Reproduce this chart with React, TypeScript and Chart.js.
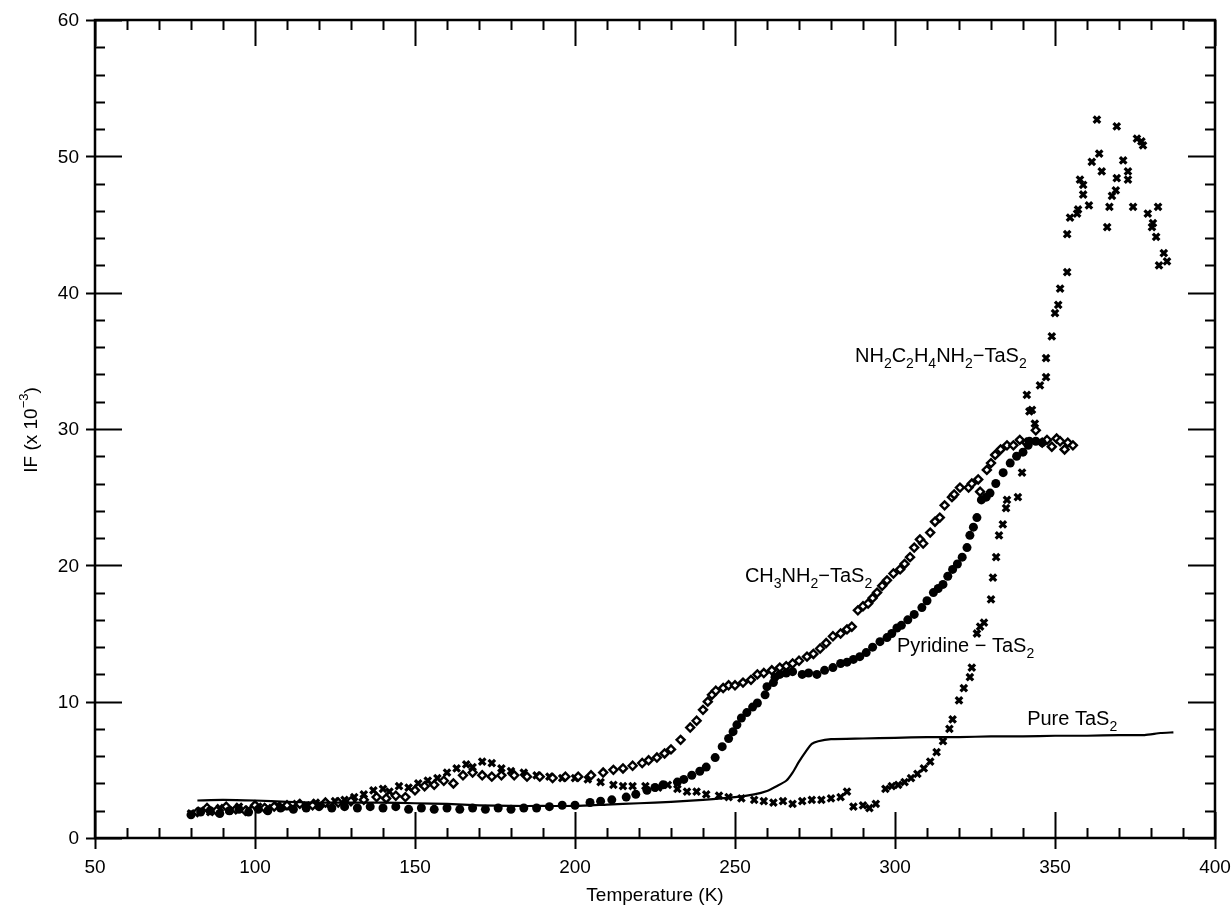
import React, { useEffect, useRef } from "react";
import { Chart, registerables } from "chart.js";
Chart.register(...registerables);

const FONT = '"Liberation Sans", Arial, Helvetica, sans-serif';

// Pure TaS2 (solid line)
const pureT = [82, 90, 100, 110, 120, 130, 140, 150, 160, 170, 180, 190, 200, 210, 220, 230, 240, 250, 256, 260, 263, 266, 268, 270, 272, 274, 276, 280, 290, 300, 310, 320, 330, 340, 350, 360, 370, 378, 383, 387];
const pureIF = [2.75, 2.8, 2.75, 2.65, 2.6, 2.6, 2.6, 2.55, 2.5, 2.4, 2.35, 2.35, 2.35, 2.45, 2.55, 2.65, 2.8, 3.0, 3.2, 3.45, 3.8, 4.2, 4.8, 5.6, 6.3, 6.9, 7.1, 7.25, 7.3, 7.35, 7.4, 7.4, 7.45, 7.45, 7.5, 7.5, 7.55, 7.55, 7.7, 7.75];

// CH3NH2-TaS2 (open diamonds)
const ch3T = [82, 85, 88, 91, 94, 97, 100, 103, 106, 110, 114, 118, 122, 126, 130, 134, 138, 141, 144, 147, 150, 153, 156, 159, 162, 165, 168, 171, 174, 177, 181, 185, 189, 193, 197, 201, 205, 208.8, 212, 215, 218, 221, 223, 225.6, 228, 230, 233, 236, 238, 240, 241.5, 242.8, 244, 246.3, 248, 250, 252.5, 255, 257, 259, 261.5, 264, 266, 268, 270, 272.5, 274.5, 276.6, 278.5, 280.6, 283, 285, 286.5, 288.4, 290, 291.6, 293, 294.4, 296, 297.5, 299.5, 301.6, 303, 304.7, 306, 307.8, 308.8, 311, 312.5, 314, 315.5, 317.8, 318.5, 320.3, 323, 324, 326, 326.6, 328.7, 330, 331.3, 333, 335, 337, 339, 341, 344, 346, 347.5, 349, 350.5, 351.6, 353, 354, 355.6];
const ch3IF = [1.9, 2.2, 2.0, 2.3, 2.1, 2.0, 2.4, 2.2, 2.3, 2.4, 2.5, 2.4, 2.6, 2.6, 2.7, 2.8, 3.0, 2.9, 3.1, 3.0, 3.5, 3.8, 3.9, 4.2, 4.0, 4.6, 4.8, 4.6, 4.5, 4.6, 4.6, 4.5, 4.5, 4.4, 4.5, 4.5, 4.6, 4.8, 5.0, 5.1, 5.3, 5.5, 5.7, 5.9, 6.2, 6.5, 7.2, 8.1, 8.6, 9.4, 10.0, 10.5, 10.8, 11.0, 11.2, 11.2, 11.4, 11.6, 12.0, 12.1, 12.3, 12.5, 12.6, 12.8, 13.0, 13.3, 13.5, 13.9, 14.3, 14.8, 15.0, 15.3, 15.5, 16.7, 17.0, 17.2, 17.6, 18.0, 18.5, 18.9, 19.4, 19.7, 20.1, 20.6, 21.3, 21.9, 21.6, 22.4, 23.2, 23.5, 24.4, 25.0, 25.2, 25.7, 25.7, 26.0, 26.3, 25.4, 27.0, 27.5, 28.1, 28.5, 28.8, 28.8, 29.2, 29.0, 29.9, 29.0, 29.2, 28.7, 29.3, 29.1, 28.5, 29.0, 28.8];

// Pyridine-TaS2 (filled circles)
const pyrT = [80, 83, 86, 89, 92, 95, 98, 101, 104, 108, 112, 116, 120, 124, 128, 132, 136, 140, 144, 148, 152, 156, 160, 164, 168, 172, 176, 180, 184, 188, 192, 196, 200, 204.7, 208, 211.5, 216, 219, 222.5, 225, 227.5, 232, 234, 236.5, 239, 241, 243.8, 246, 248, 249.4, 250.6, 252, 253.7, 255.5, 257, 259.4, 260, 262, 262.5, 264, 266, 268, 271, 273, 275.6, 278, 280.6, 283, 285, 287, 289, 291, 293, 295.3, 297.5, 299, 300.6, 302, 304, 306, 308.4, 310, 312, 313.5, 315, 316.5, 318, 319.5, 321, 322.5, 323.4, 324.5, 325.6, 327, 328.5, 329.7, 331.5, 333.8, 336, 338, 340, 341.6, 342, 344, 346];
const pyrIF = [1.7, 1.9, 2.0, 1.8, 2.0, 2.1, 1.9, 2.1, 2.0, 2.2, 2.1, 2.2, 2.3, 2.2, 2.3, 2.2, 2.3, 2.2, 2.3, 2.1, 2.2, 2.1, 2.2, 2.1, 2.2, 2.1, 2.2, 2.1, 2.2, 2.2, 2.3, 2.4, 2.4, 2.6, 2.7, 2.8, 3.0, 3.2, 3.5, 3.7, 3.9, 4.1, 4.3, 4.6, 4.9, 5.2, 5.9, 6.7, 7.3, 7.8, 8.3, 8.8, 9.2, 9.6, 9.9, 10.5, 11.1, 11.4, 11.8, 12.0, 12.1, 12.2, 12.0, 12.1, 12.0, 12.3, 12.5, 12.8, 12.9, 13.1, 13.3, 13.6, 14.0, 14.4, 14.7, 15.0, 15.4, 15.6, 16.0, 16.4, 16.9, 17.4, 18.0, 18.3, 18.6, 19.2, 19.7, 20.1, 20.6, 21.3, 22.2, 22.8, 23.5, 24.8, 25.0, 25.3, 26.0, 26.8, 27.5, 28.0, 28.3, 28.8, 29.1, 29.1, 29.0];

// NH2C2H4NH2-TaS2 (crosses)
const enT = [80, 83, 86, 89, 92, 95, 98, 101, 104, 107, 110, 113, 116, 119, 122, 125, 128, 131, 134, 137, 140, 142, 145, 148, 151, 154, 157, 160, 163, 166, 168, 171, 174, 177, 180, 184, 188, 192, 196, 200, 204, 208, 212, 215, 218, 222, 226, 229, 232, 235, 238, 241, 245, 248, 252, 256, 259, 262, 265, 268, 271, 274, 277, 280, 283, 285, 287, 290, 292, 294, 297, 299, 301, 303, 305, 307, 309, 311, 313, 315, 317, 318, 320, 321.5, 323.4, 324, 325.6, 326.6, 327.8, 330, 330.6, 331.6, 332.5, 333.7, 334.7, 335, 338.4, 339.7, 341.2, 342, 342.8, 343.7, 345.3, 347.2, 347.2, 349, 350, 351, 351.6, 353.8, 353.8, 354.7, 356.9, 357.2, 357.8, 358.8, 358.8, 360.6, 361.5, 363.1, 363.8, 364.6, 366.3, 367, 367.8, 369, 369.3, 369.3, 371.3, 372.8, 372.8, 374.4, 375.6, 377, 377.5, 379, 380.3, 380.6, 381.6, 382.2, 382.5, 384, 385];
const enIF = [1.8, 2.0, 1.9, 2.2, 2.0, 2.3, 2.1, 2.3, 2.2, 2.4, 2.3, 2.5, 2.4, 2.6, 2.5, 2.7, 2.8, 3.0, 3.2, 3.5, 3.6, 3.4, 3.8, 3.7, 4.0, 4.2, 4.4, 4.8, 5.1, 5.4, 5.2, 5.6, 5.5, 5.1, 4.9, 4.8, 4.6, 4.5, 4.4, 4.4, 4.3, 4.1, 3.9, 3.8, 3.8, 3.8, 3.7, 3.9, 3.6, 3.4, 3.4, 3.2, 3.1, 3.0, 2.9, 2.8, 2.7, 2.6, 2.7, 2.5, 2.7, 2.8, 2.8, 2.9, 3.0, 3.4, 2.3, 2.4, 2.2, 2.5, 3.6, 3.8, 3.9, 4.1, 4.4, 4.7, 5.1, 5.6, 6.3, 7.1, 8.0, 8.7, 10.1, 11.0, 11.8, 12.5, 15.0, 15.5, 15.8, 17.5, 19.1, 20.6, 22.2, 23.0, 24.2, 24.8, 25.0, 26.8, 32.5, 31.3, 31.4, 30.4, 33.2, 33.8, 35.2, 36.8, 38.5, 39.1, 40.3, 41.5, 44.3, 45.5, 45.8, 46.1, 48.3, 47.2, 47.9, 46.4, 49.6, 52.7, 50.2, 48.9, 44.8, 46.3, 47.1, 47.5, 48.4, 52.2, 49.7, 48.9, 48.3, 46.3, 51.3, 51.1, 50.8, 45.8, 44.8, 45.1, 44.1, 46.3, 42.0, 42.9, 42.3];

const xMajor = [50, 100, 150, 200, 250, 300, 350, 400];
const yMajor = [0, 10, 20, 30, 40, 50, 60];
const xTitle = "Temperature (K)";

// rich labels: [text, kind] kind: n | sub | sup
type Part = [string, string];
const seriesLabels: { x: number; y: number; parts: Part[] }[] = [
  { x: 287.5, y: 34.9, parts: [["NH", "n"], ["2", "sub"], ["C", "n"], ["2", "sub"], ["H", "n"], ["4", "sub"], ["NH", "n"], ["2", "sub"], ["\u2212TaS", "n"], ["2", "sub"]] },
  { x: 253.1, y: 18.8, parts: [["CH", "n"], ["3", "sub"], ["NH", "n"], ["2", "sub"], ["\u2212TaS", "n"], ["2", "sub"]] },
  { x: 300.6, y: 13.65, parts: [["Pyridine \u2212 TaS", "n"], ["2", "sub"]] },
  { x: 341.3, y: 8.3, parts: [["Pure TaS", "n"], ["2", "sub"]] },
];
const yTitleParts: Part[] = [["IF (x 10", "n"], ["\u22123", "sup"], [")", "n"]];

const toPts = (xs: number[], ys: number[]) => xs.map((x, i) => ({ x, y: ys[i] }));

function drawRich(ctx: CanvasRenderingContext2D, parts: Part[], x: number, y: number, size: number, align: string) {
  const measure = () => {
    let w = 0;
    for (const [t, k] of parts) {
      ctx.font = `${k === "n" ? size : Math.round(size * 0.68)}px ${FONT}`;
      w += ctx.measureText(t).width;
    }
    return w;
  };
  let cx = x;
  if (align === "center") cx = x - measure() / 2;
  ctx.textAlign = "left";
  ctx.textBaseline = "alphabetic";
  for (const [t, k] of parts) {
    const s = k === "n" ? size : Math.round(size * 0.68);
    ctx.font = `${s}px ${FONT}`;
    const dy = k === "sub" ? size * 0.3 : k === "sup" ? -size * 0.45 : 0;
    ctx.fillText(t, cx, y + dy);
    cx += ctx.measureText(t).width;
  }
}

const framePlugin = {
  id: "framePlugin",
  afterDraw(chart: any) {
    const { ctx, chartArea: a, scales } = chart;
    const xs = scales.x, ys = scales.y;
    ctx.save();
    ctx.strokeStyle = "#000";
    ctx.fillStyle = "#000";
    ctx.lineWidth = 2.5;
    ctx.strokeRect(a.left, a.top, a.right - a.left, a.bottom - a.top);
    ctx.lineWidth = 2;
    ctx.beginPath();
    // x ticks
    for (let v = 50; v <= 400; v += 10) {
      const px = Math.round(xs.getPixelForValue(v)) + 0.5;
      const major = xMajor.includes(v);
      const len = major ? 26 : 10;
      ctx.moveTo(px, a.bottom + (major ? 11 : 0));
      ctx.lineTo(px, a.bottom - len);
      ctx.moveTo(px, a.top);
      ctx.lineTo(px, a.top + len);
    }
    for (let v = 0; v <= 60; v += 2) {
      const py = Math.round(ys.getPixelForValue(v)) + 0.5;
      const major = yMajor.includes(v);
      const len = major ? 27 : 10;
      ctx.moveTo(a.left - (major ? 9 : 0), py);
      ctx.lineTo(a.left + len, py);
      ctx.moveTo(a.right, py);
      ctx.lineTo(a.right - len, py);
    }
    ctx.stroke();
    // tick labels
    ctx.font = `19px ${FONT}`;
    ctx.textAlign = "center";
    ctx.textBaseline = "alphabetic";
    for (const v of xMajor) ctx.fillText(String(v), xs.getPixelForValue(v), a.bottom + 35);
    ctx.textAlign = "right";
    ctx.textBaseline = "middle";
    for (const v of yMajor) ctx.fillText(String(v), a.left - 16, ys.getPixelForValue(v) + 1);
    // axis titles
    ctx.textAlign = "center";
    ctx.textBaseline = "alphabetic";
    ctx.font = `19px ${FONT}`;
    ctx.fillText(xTitle, (a.left + a.right) / 2, 901);
    ctx.save();
    ctx.translate(37, 430);
    ctx.rotate(-Math.PI / 2);
    drawRich(ctx, yTitleParts, 0, 0, 19, "center");
    ctx.restore();
    // series labels
    for (const l of seriesLabels) {
      drawRich(ctx, l.parts, xs.getPixelForValue(l.x), ys.getPixelForValue(l.y), 20, "left");
    }
    ctx.restore();
  },
};

export default function App() {
  const ref = useRef<HTMLCanvasElement | null>(null);
  useEffect(() => {
    if (!ref.current) return;
    const chart = new Chart(ref.current, {
      type: "scatter",
      data: {
        datasets: [
          {
            label: "Pure TaS2",
            data: toPts(pureT, pureIF),
            showLine: true,
            borderColor: "#000",
            borderWidth: 2.2,
            pointRadius: 0,
            tension: 0.2,
          },
          {
            label: "Pyridine-TaS2",
            data: toPts(pyrT, pyrIF),
            pointStyle: "circle",
            pointRadius: 4.5,
            backgroundColor: "#000",
            borderColor: "#000",
            borderWidth: 0,
          },
          {
            label: "CH3NH2-TaS2",
            data: toPts(ch3T, ch3IF),
            pointStyle: "rectRot",
            pointRadius: 4,
            backgroundColor: "#fff",
            borderColor: "#000",
            borderWidth: 2.4,
          },
          {
            label: "NH2C2H4NH2-TaS2",
            data: toPts(enT, enIF),
            pointStyle: "crossRot",
            pointRadius: 4.6,
            borderColor: "#000",
            borderWidth: 3.2,
          },
        ],
      } as any,
      options: {
        animation: false,
        responsive: false,
        maintainAspectRatio: false,
        layout: { padding: { left: 95, right: 17, top: 20, bottom: 71 } },
        plugins: { legend: { display: false }, tooltip: { enabled: false } },
        scales: {
          x: { type: "linear", min: 50, max: 400, display: false },
          y: { type: "linear", min: 0, max: 60, display: false },
        },
      } as any,
      plugins: [framePlugin],
    });
    return () => chart.destroy();
  }, []);
  return (
    <div style={{ position: "fixed", left: 0, top: 0, width: 1232, height: 909, background: "#fff" }}>
      <canvas ref={ref} width={1232} height={909} />
    </div>
  );
}
